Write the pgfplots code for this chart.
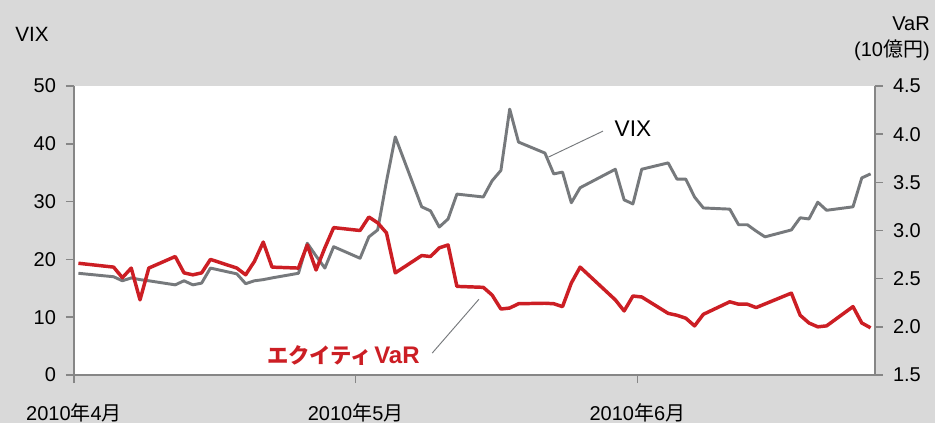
\documentclass[border=0pt]{standalone}
\usepackage{pgfplots}
\pgfplotsset{compat=1.18}
\usepackage{fontspec}
\setmainfont{Liberation Sans}[BoldFont={Liberation Sans Bold}]
\newfontfamily\jp{Noto Sans CJK JP}
\definecolor{bg}{RGB}{217,217,217}
\definecolor{vixgray}{RGB}{118,121,124}
\definecolor{varred}{RGB}{204,30,36}
\definecolor{axgray}{RGB}{134,134,134}

% day 0 = 2010-04-01
\pgfplotstableread{
day vix
0 17.6
4 17.0
5 16.3
6 16.8
7 16.5
8 16.3
11 15.6
12 16.3
13 15.6
14 15.9
15 18.5
18 17.5
19 15.8
20 16.3
21 16.5
22 16.8
25 17.6
26 22.8
27 20.6
28 18.5
29 22.2
32 20.2
33 23.9
34 25.1
35 33.5
36 41.2
39 29.1
40 28.4
41 25.6
42 27.0
43 31.3
46 30.8
47 33.6
48 35.4
49 46.0
50 40.3
53 38.4
54 34.8
55 35.1
56 29.8
57 32.4
61 35.6
62 30.3
63 29.6
64 35.6
67 36.7
68 33.9
69 33.9
70 30.8
71 28.9
74 28.7
75 26.0
76 26.0
77 24.9
78 23.9
81 25.1
82 27.2
83 27.0
84 29.9
85 28.5
88 29.1
89 34.1
90 34.8
}\vixdata

\pgfplotstableread{
day var
0 2.66
4 2.62
5 2.51
6 2.61
7 2.28
8 2.61
11 2.73
12 2.56
13 2.54
14 2.56
15 2.70
18 2.61
19 2.54
20 2.68
21 2.88
22 2.62
25 2.61
26 2.85
27 2.59
28 2.82
29 3.03
32 3.00
33 3.14
34 3.08
35 2.975
36 2.56
39 2.74
40 2.73
41 2.82
42 2.85
43 2.42
46 2.41
47 2.33
48 2.185
49 2.195
50 2.24
53 2.245
54 2.24
55 2.21
56 2.455
57 2.62
61 2.28
62 2.165
63 2.32
64 2.31
67 2.14
68 2.12
69 2.09
70 2.01
71 2.13
74 2.26
75 2.235
76 2.235
77 2.20
81 2.35
82 2.12
83 2.04
84 2.00
85 2.01
88 2.21
89 2.04
90 1.99
}\vardata

\pgfplotsset{
  base/.style={
    scale only axis, width=600.75pt, height=216.75pt,
    xmin=-0.5, xmax=90.5,
    tick align=outside, major tick length=6pt,
    tick style={axgray, line width=1.1pt},
    axis line style={axgray, line width=1.4pt},
    ticklabel style={font=\fontsize{15}{18}\selectfont},
    /pgf/number format/assume math mode=true,
  }
}

\begin{document}
\begin{tikzpicture}
\fill[bg] (-55.5pt,-36pt) rectangle (645.75pt,281.25pt);
\fill[white] (0,0) rectangle (600.75pt,216.75pt);

\begin{axis}[base,
  ymin=0, ymax=50, ytick={0,10,...,50},
  axis y line*=left, axis x line*=bottom,
  xtick={-0.5,31.5,63.5},
  xticklabels={2010{\jp 年}4{\jp 月},2010{\jp 年}5{\jp 月},2010{\jp 年}6{\jp 月}},
  xticklabel style={yshift=-12pt},
  yticklabel style={xshift=-4pt},
]
\addplot[vixgray, line width=2.2pt, line join=round] table[x=day,y=vix] {\vixdata};
\draw[vixgray, line width=0.7pt] (axis cs:53.4,37.7) -- (axis cs:59.6,42.2);
\node[font=\fontsize{17}{20}\selectfont] at (axis cs:63.0,42.7) {VIX};
\draw[vixgray, line width=0.7pt] (axis cs:40.2,3.8) -- (axis cs:45.5,13.1);
\node[anchor=east, text=varred, inner sep=0pt] at (axis cs:38.8,3.4)
  {{\fontsize{16}{19}\selectfont\jp\bfseries エクイティ}\,{\fontsize{18}{20}\selectfont\bfseries VaR}};
\end{axis}

\begin{axis}[base,
  ymin=1.5, ymax=4.5, ytick={1.5,2,...,4.5},
  axis y line*=right, axis x line=none,
  yticklabel style={xshift=4pt, /pgf/number format/.cd, fixed, fixed zerofill, precision=1},
]
\addplot[varred, line width=2.6pt, line join=round] table[x=day,y=var] {\vardata};
\end{axis}

\node[font=\fontsize{15.5}{18}\selectfont] at (-31.5pt,255.75pt) {VIX};
\node[anchor=east, font=\fontsize{15}{18}\selectfont, inner sep=0pt] at (642pt,263.25pt) {VaR};
\node[anchor=east, font=\fontsize{15}{18}\selectfont, inner sep=0pt] at (642pt,243.75pt) {(10{\jp 億円})};
\end{tikzpicture}
\end{document}
